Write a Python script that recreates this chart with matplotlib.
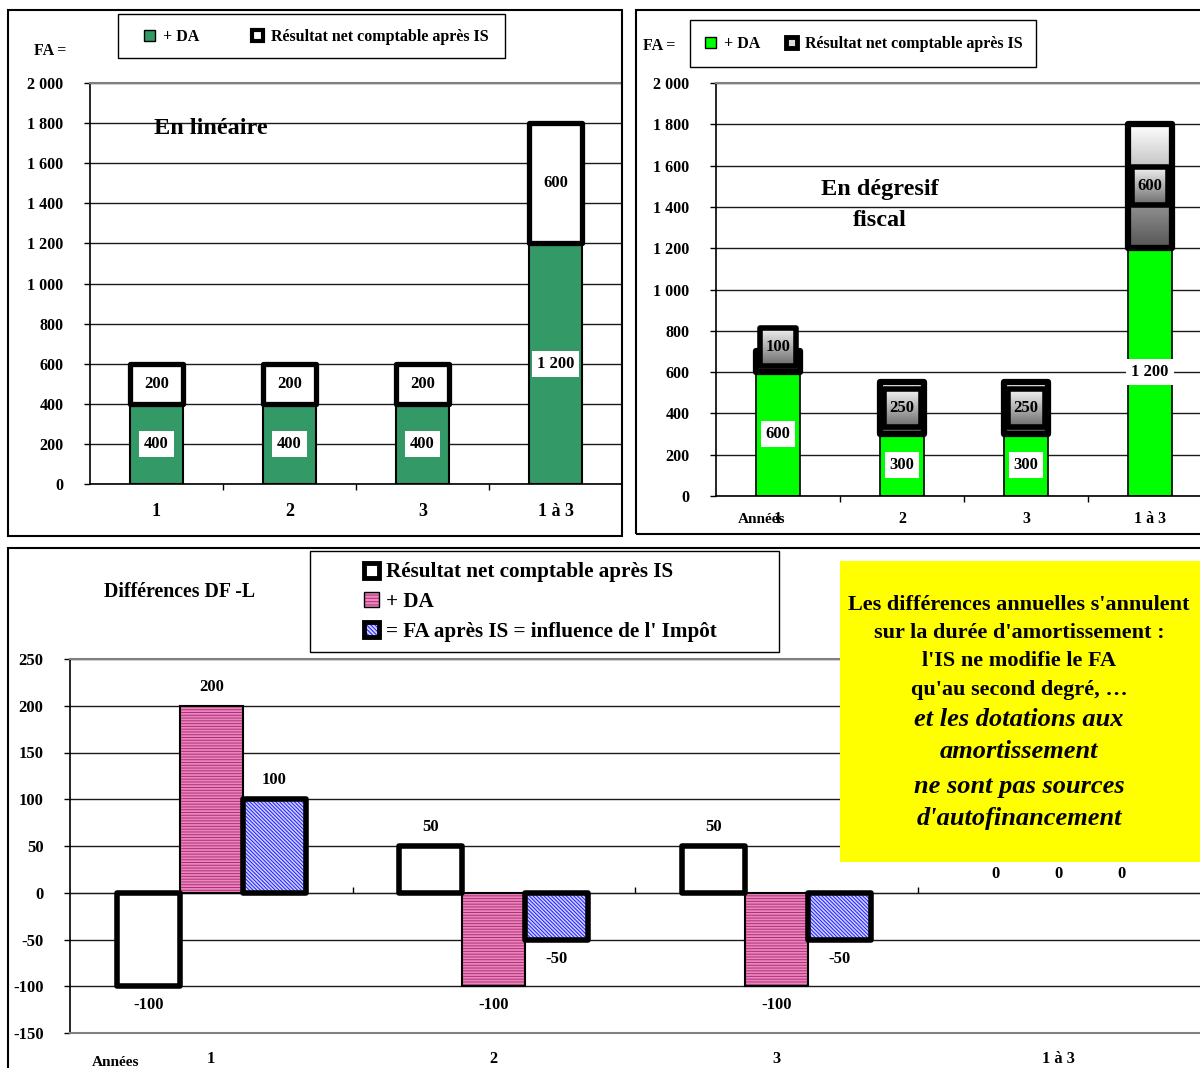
import numpy as np
import matplotlib
matplotlib.use('Agg')
import matplotlib.pyplot as plt
from matplotlib.patches import Rectangle, Patch
from matplotlib.colors import LinearSegmentedColormap
from matplotlib.ticker import FuncFormatter

plt.rcParams['font.family'] = ['Liberation Serif', 'DejaVu Serif']
plt.rcParams['font.weight'] = 'bold'
plt.rcParams['axes.unicode_minus'] = False
plt.rcParams['hatch.linewidth'] = 0.7

categories = ['1', '2', '3', '1 à 3']

# amortissement linéaire
lin_da = [400, 400, 400, 1200]
lin_res = [200, 200, 200, 600]

# amortissement dégressif fiscal
deg_da = [600, 300, 300, 1200]
deg_res = [100, 250, 250, 600]

# différences dégressif - linéaire
diff_res = [-100, 50, 50, 0]
diff_da = [200, -100, -100, 0]
diff_fa = [100, -50, -50, 0]

lbl_res = 'Résultat net comptable après IS'
lbl_da = '+ DA'
lbl_fa = "= FA après IS = influence de l' Impôt"

W, H = 1200, 1068
fig = plt.figure(figsize=(W / 100, H / 100), dpi=100)


def box(x0, y0, x1, y1):
    # rectangle en pixels (origine en haut à gauche) -> fractions de figure
    return [x0 / W, 1 - y1 / H, (x1 - x0) / W, (y1 - y0) / H]


def frame(x0, y0, x1, y1, **kw):
    l, b, w, h = box(x0, y0, x1, y1)
    fig.add_artist(Rectangle((l, b), w, h, transform=fig.transFigure, **kw))


def ftext(px, py, s, **kw):
    fig.text(px / W, 1 - py / H, s, ha='center', va='center', **kw)


def fmt(v):
    return f'{v:,.0f}'.replace(',', ' ')


x = np.arange(len(categories))


def setup(ax, ylim, ystep, ypad, xpad, xsize):
    ax.set_xlim(-0.5, len(categories) - 0.5)
    ax.set_ylim(*ylim)
    ax.set_yticks(np.arange(ylim[0], ylim[1] + 1, ystep))
    ax.yaxis.set_major_formatter(FuncFormatter(lambda v, p: fmt(v)))
    ax.set_xticks(x, categories)
    ax.set_xticks(x[:-1] + 0.5, minor=True)
    ax.tick_params(axis='x', which='major', length=0, pad=xpad, labelsize=xsize)
    ax.tick_params(axis='x', which='minor', length=4, width=1, direction='out')
    ax.tick_params(axis='y', length=4, width=1, pad=ypad, labelsize=11.6)
    ax.yaxis.grid(True, color='#1a1a1a', lw=1)
    ax.set_axisbelow(True)
    ax.spines['top'].set_color('#808080')
    ax.spines['top'].set_linewidth(1.5)
    ax.spines['right'].set_visible(False)
    ax.spines[['left', 'bottom']].set_linewidth(1.2)


# cadres des trois graphiques
frame(8, 10, 622, 536, fill=False, ec='black', lw=1.5)
frame(636, 10, 1215, 534, fill=False, ec='black', lw=1.5)
frame(8, 548, 1215, 1080, fill=False, ec='black', lw=1.5)

# ---- En linéaire ----
ax1 = fig.add_axes(box(90, 83, 622, 484))
setup(ax1, (0, 2000), 200, 15, 14, 13)
ax1.bar(x, lin_da, 0.4, color='#339966', ec='black', lw=1.5, zorder=2)
ax1.bar(x, lin_res, 0.4, bottom=lin_da, color='white', ec='black', lw=3.8,
        joinstyle='round', zorder=3)
for i, (d, r) in enumerate(zip(lin_da, lin_res)):
    ax1.text(i, d / 2, fmt(d), ha='center', va='center', fontsize=12, zorder=5,
             bbox=dict(boxstyle='square,pad=0.3', fc='white', ec='none'))
    ax1.text(i, d + r / 2, fmt(r), ha='center', va='center', fontsize=12, zorder=5)

ftext(211, 128, 'En linéaire', fontsize=17.5)
ftext(50, 51, 'FA =', fontsize=11.5)
frame(118, 14, 505, 58, fill=False, ec='black', lw=1)
fig.legend([Patch(fc='#339966', ec='black', lw=1), Patch(fc='white', ec='black', lw=3)],
           [lbl_da, lbl_res], ncol=2, loc='center left',
           bbox_to_anchor=(144 / W, 1 - 37 / H), frameon=False, fontsize=11.5,
           handlelength=0.7, handleheight=0.7, handletextpad=0.5,
           columnspacing=3.3, borderpad=0, borderaxespad=0)

# ---- En dégressif fiscal ----
ax2 = fig.add_axes(box(716, 83, 1212, 496))
setup(ax2, (0, 2000), 200, 15, 11, 11.5)
ax2.bar(x, deg_da, 0.36, color='#00ff00', ec='black', lw=1.2, zorder=2)
res_bars = ax2.bar(x, deg_res, 0.36, bottom=deg_da, fc='none', ec='black', lw=4.5,
                   joinstyle='round', zorder=3)

grad = np.linspace(0, 1, 256).reshape(-1, 1)
bar_grey = LinearSegmentedColormap.from_list('bar_grey', ['#ffffff', '#555555'])
label_grey = LinearSegmentedColormap.from_list('label_grey', ['#f6f6f6', '#6a6a6a'])
for rect in res_bars:
    x0, y0 = rect.get_xy()
    im = ax2.imshow(grad, cmap=bar_grey, aspect='auto', zorder=2.5,
                    extent=[x0, x0 + rect.get_width(), y0, y0 + rect.get_height()])
    im.set_clip_path(rect)

res_labels = []
for i, (d, r) in enumerate(zip(deg_da, deg_res)):
    ax2.text(i, d / 2, fmt(d), ha='center', va='center', fontsize=12, zorder=5,
             bbox=dict(boxstyle='square,pad=0.3', fc='white', ec='none'))
    # étiquette remontée quand le segment est trop court
    t = ax2.text(i, d + max(r / 2, 120), fmt(r), ha='center', va='center',
                 fontsize=12, zorder=6)
    res_labels.append(t)
ax2.text(-0.13, -0.056, 'Années', transform=ax2.get_xaxis_transform(),
         ha='center', va='center', fontsize=11)

ftext(880, 190, 'En dégresif', fontsize=17.5)
ftext(880, 221, 'fiscal', fontsize=17.5)
ftext(659, 46, 'FA =', fontsize=11.5)
frame(690, 20, 1036, 67, fill=False, ec='black', lw=1)
fig.legend([Patch(fc='#00ff00', ec='black', lw=1), Patch(fc='#dddddd', ec='black', lw=3.5)],
           [lbl_da, lbl_res], ncol=2, loc='center left',
           bbox_to_anchor=(705 / W, 1 - 44 / H), frameon=False, fontsize=11.5,
           handlelength=0.7, handleheight=0.7, handletextpad=0.5,
           columnspacing=1.6, borderpad=0, borderaxespad=0)

# ---- Différences DF - L ----
ax3 = fig.add_axes(box(70, 659, 1200, 1033))
ymin, ymax = -150, 250
ax3.set_xlim(-0.5, len(categories) - 0.5)
ax3.set_ylim(ymin, ymax)
ax3.set_yticks(np.arange(ymin, ymax + 1, 50))
ax3.set_xticks(x, categories)
ax3.tick_params(axis='x', length=0, pad=13, labelsize=11.8)
ax3.tick_params(axis='y', length=4, width=1, pad=15, labelsize=12)
ax3.yaxis.grid(True, color='#1a1a1a', lw=1)
ax3.set_axisbelow(True)
for s in ['top', 'bottom']:
    ax3.spines[s].set_color('#808080')
    ax3.spines[s].set_linewidth(1.5)
ax3.spines['right'].set_visible(False)
ax3.spines['left'].set_linewidth(1.2)

zero_axis = ax3.secondary_xaxis((0 - ymin) / (ymax - ymin))
zero_axis.set_xticks(x[:-1] + 0.5)
zero_axis.tick_params(length=4, width=1, direction='in', labeltop=False, labelbottom=False)
zero_axis.spines['top'].set_linewidth(1.2)

pink, pink_line = '#ea86bb', '#b0307a'
blue, blue_line = '#d0d0ff', '#1c1cff'

w = 0.223
ax3.bar(x - w, diff_res, w, color='white', ec='black',
        lw=[4 if v else 0 for v in diff_res], joinstyle='round', zorder=3)
ax3.bar(x, diff_da, w, color=pink, ec=pink_line, hatch='------', lw=0, zorder=2)
ax3.bar(x, diff_da, w, fill=False, ec='black', lw=[1.5 if v else 0 for v in diff_da], zorder=2.1)
ax3.bar(x + w, diff_fa, w, color=blue, ec=blue_line, hatch='\\' * 9, lw=0, zorder=2)
ax3.bar(x + w, diff_fa, w, fill=False, ec='black',
        lw=[4 if v else 0 for v in diff_fa], joinstyle='round', zorder=3)

for off, vals in [(-w, diff_res), (0, diff_da), (w, diff_fa)]:
    for i, v in enumerate(vals):
        ax3.annotate(f'{v}', (i + off, v), xytext=(0, 8 if v >= 0 else -8),
                     textcoords='offset points', ha='center',
                     va='bottom' if v >= 0 else 'top', fontsize=12, zorder=5)

ax3.text(-0.34, -0.08, 'Années', transform=ax3.get_xaxis_transform(),
         ha='center', va='center', fontsize=11)

ftext(180, 592, 'Différences DF -L', fontsize=14.3)
frame(310, 551, 779, 652, fill=False, ec='black', lw=1)
h_res = Patch(fc='white', ec='black', lw=3.5)
h_da = (Patch(fc=pink, ec=pink_line, hatch='-----', lw=0), Patch(fill=False, ec='black', lw=1))
h_fa = (Patch(fc=blue, ec=blue_line, hatch='\\' * 8, lw=0), Patch(fill=False, ec='black', lw=3.5))
fig.legend([h_res, h_da, h_fa], [lbl_res, lbl_da, lbl_fa], loc='center left',
           bbox_to_anchor=(364 / W, 1 - 602 / H), frameon=False, fontsize=15.2,
           handlelength=0.7, handleheight=0.7, handletextpad=0.35,
           labelspacing=0.45, borderpad=0, borderaxespad=0)

# encadré jaune
frame(840, 561, 1215, 862, fc='#ffff00', ec='none', zorder=3)
for py, line in [(605, "Les différences annuelles s'annulent"),
                 (633, "sur la durée d'amortissement :"),
                 (661, "l'IS ne modifie le FA"),
                 (690, "qu'au second degré, …")]:
    ftext(1019, py, line, fontsize=16, zorder=4)
for py, line in [(720, 'et les dotations aux'),
                 (752, 'amortissement'),
                 (786, 'ne sont pas sources'),
                 (818, "d'autofinancement")]:
    ftext(1019, py, line, fontsize=19, style='italic', zorder=4)

# cadres dégradés des étiquettes du dégressif, ajustés au texte
fig.canvas.draw()
inv = ax2.transData.inverted()
for t in res_labels:
    bb = t.get_window_extent()
    (x0, y0), (x1, y1) = inv.transform([[bb.x0 - 6, bb.y0 - 11], [bb.x1 + 6, bb.y1 + 11]])
    ax2.imshow(grad, cmap=label_grey, aspect='auto', zorder=5.5, extent=[x0, x1, y0, y1])
    ax2.add_patch(Rectangle((x0, y0), x1 - x0, y1 - y0, fill=False, ec='black', lw=4,
                            joinstyle='round', zorder=5.8))
ax2.set_xlim(-0.5, len(categories) - 0.5)
ax2.set_ylim(0, 2000)

fig.savefig('out.png', dpi=100)
